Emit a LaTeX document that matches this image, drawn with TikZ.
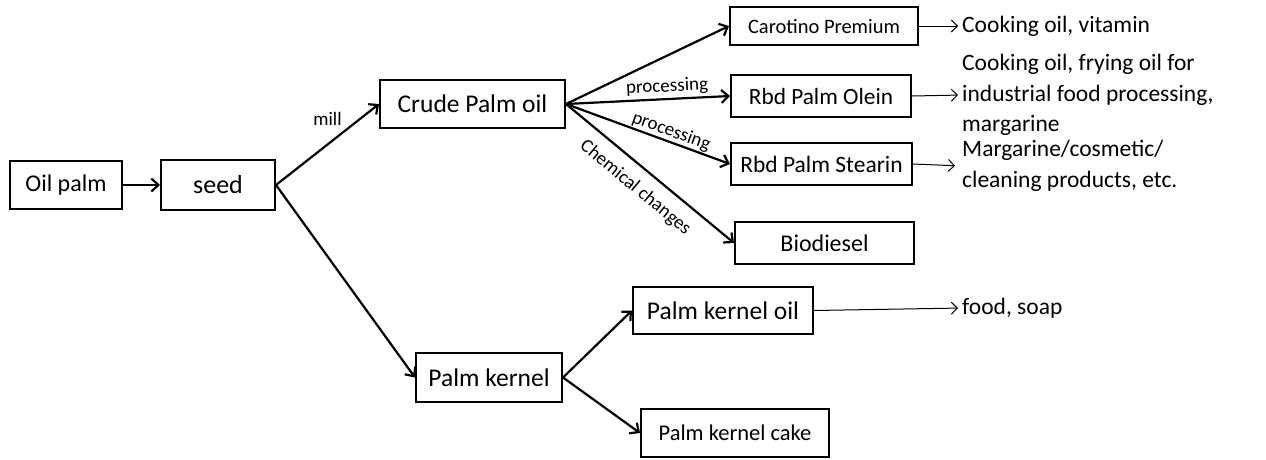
\documentclass[tikz,border=0pt]{standalone}
\usepackage{fontspec}
\setmainfont{Carlito}
\usetikzlibrary{arrows.meta}

\begin{document}
\begin{tikzpicture}[x=1pt,y=1pt]
\tikzstyle{every node}+=[inner sep=0pt]
\tikzstyle{box}=[draw=black, line width=2pt, font=\fontsize{24}{29}\selectfont]
\tikzstyle{bigbox}=[box, font=\fontsize{25.5}{30}\selectfont]
\tikzstyle{smallbox}=[box, font=\fontsize{20.5}{25}\selectfont]
\tikzstyle{use}=[anchor=west, align=left, font=\fontsize{23.5}{30.5}\selectfont]
\tikzstyle{lbl}=[font=\fontsize{19}{23}\selectfont, inner sep=3pt]
\tikzstyle{flow}=[black, line width=2.2pt, -{Straight Barb[length=7pt,width=13pt,line width=2.2pt]}]
\tikzstyle{thin}=[black, line width=1pt, -{Straight Barb[length=6pt,width=12pt,line width=1pt]}]
\useasboundingbox (0,0) rectangle (1266,-459);
% boxes
\node [box, minimum width=112, minimum height=48] (oilpalm) at (66,-185) {Oil palm};
\node [box, minimum width=114, minimum height=50, font=\fontsize{26}{30}\selectfont] (seed) at (218,-185) {seed};
\node [bigbox, minimum width=185, minimum height=48] (crude) at (472.5,-104) {Crude Palm oil};
\node [smallbox, minimum width=188, minimum height=38] (carotino) at (824,-26) {Carotino Premium};
\node [box, minimum width=180, minimum height=42, font=\fontsize{23.3}{28}\selectfont] (olein) at (821,-96) {Rbd Palm Olein};
\node [box, minimum width=181, minimum height=42, font=\fontsize{23.5}{28}\selectfont] (stearin) at (821.5,-164) {Rbd Palm Stearin};
\node [box, minimum width=179, minimum height=42] (biodiesel) at (824.5,-243) {Biodiesel};
\node [bigbox, minimum width=146, minimum height=49] (kernel) at (489,-377.5) {Palm kernel};
\node [bigbox, minimum width=180, minimum height=47] (kerneloil) at (723,-310.5) {Palm kernel oil};
\node [box, minimum width=188, minimum height=48, font=\fontsize{22.5}{27}\selectfont] (kernelcake) at (735,-433) {Palm kernel cake};
% uses
\node [use] (carotinouse) at (962,-26) {Cooking oil, vitamin};
\node [use] (oleinuse) at (962,-95) {Cooking oil, frying oil for\\industrial food processing,\\margarine};
\node [use] (stearinuse) at (962,-166) {Margarine/cosmetic/\\cleaning products, etc.};
\node [use] (kerneloiluse) at (962,-308) {food, soap};
% flows
\draw [flow] (oilpalm) -- (seed);
\draw [flow] (seed.east) -- (crude.west) node [lbl, pos=0.5, above=15pt] {mill};
\draw [flow] (seed.east) -- (kernel.west);
\draw [flow] (crude.east) -- (carotino.west);
\draw [flow] (crude.east) -- (olein.west) node [lbl, pos=0.62, sloped, above] {processing};
\draw [flow] (crude.east) -- (stearin.west) node [lbl, pos=0.62, sloped, above=-2pt] {processing};
\draw [flow] (crude.east) -- (biodiesel.west) node [lbl, pos=0.49, sloped, below=8pt] {Chemical changes};
\draw [flow] (kernel.east) -- (kerneloil.west);
\draw [flow] (kernel.east) -- (kernelcake.west);
\draw [thin, shorten >=4pt] (carotino.east) -- (carotinouse.west);
\draw [thin, shorten >=4pt] (olein.east) -- (oleinuse.west);
\draw [thin, shorten >=7pt] (stearin.east) -- (stearinuse.west);
\draw [thin, shorten >=4pt] (kerneloil.east) -- (kerneloiluse.west);
\end{tikzpicture}
\end{document}
